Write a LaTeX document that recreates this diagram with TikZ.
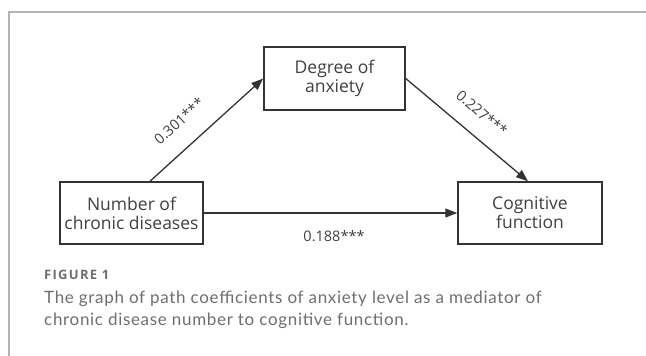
\documentclass[tikz,border=0pt]{standalone}
\usepackage{fontspec}
\setmainfont{Open Sans}
\newfontfamily\capfont[LetterSpace=4]{Lato}
\newfontfamily\figfont[LetterSpace=10]{Open Sans}
\usetikzlibrary{arrows.meta}
\definecolor{boxline}{HTML}{333333}
\definecolor{boxtext}{HTML}{404040}
\definecolor{frameline}{HTML}{B4B4B4}
\definecolor{captext}{HTML}{6E6E6E}
\tikzset{
  varbox/.style={draw=boxline, line width=1.5pt, fill=white, minimum width=#1, minimum height=62pt,
    align=center, font=\fontsize{17.5}{19}\selectfont, text=boxtext, inner sep=0pt},
  pathline/.style={draw=boxline, line width=1.3pt, -{Triangle[length=12pt,width=9pt]}},
  coef/.style={font=\fontsize{14.5}{16}\selectfont, text=boxtext, inner sep=0pt},
  captxt/.style={anchor=base west, inner sep=0pt, text=captext},
}
\begin{document}
\begin{tikzpicture}[x=1pt,y=-1pt]
\useasboundingbox (0,0) rectangle (646,356);
\draw[frameline, line width=1.5pt] (9,356) -- (9,12) -- (646,12);
\node[varbox=141pt, minimum height=63pt] (deg) at (334.5,78.5) {Degree of\\anxiety};
\node[varbox=143pt] (num) at (131.5,213) {Number of\\chronic diseases};
\node[varbox=144pt] (cog) at (530,213) {Cognitive\\function};
\draw[pathline] ([xshift=18.5pt]num.north) -- (deg.west);
\draw[pathline] (deg.east) -- ([xshift=-2pt]cog.north);
\draw[pathline] (num.east) -- (cog.west);
\node[coef, rotate=42] (c1) at (179,121) {0.301***};
\node[coef, rotate=-40] (c2) at (482,113) {0.227***};
\node[coef] (c3) at (334,236) {0.188***};
\node[captxt, font=\figfont\bfseries\fontsize{13}{15}\selectfont] (fig) at (44,279.5) {FIGURE 1};
\node[captxt, font=\capfont\fontsize{17}{20}\selectfont] (cap1) at (44,303) {The graph of path coefficients of anxiety level as a mediator of};
\node[captxt, font=\capfont\fontsize{17}{20}\selectfont] (cap2) at (44,325) {chronic disease number to cognitive function.};
\end{tikzpicture}
\end{document}
